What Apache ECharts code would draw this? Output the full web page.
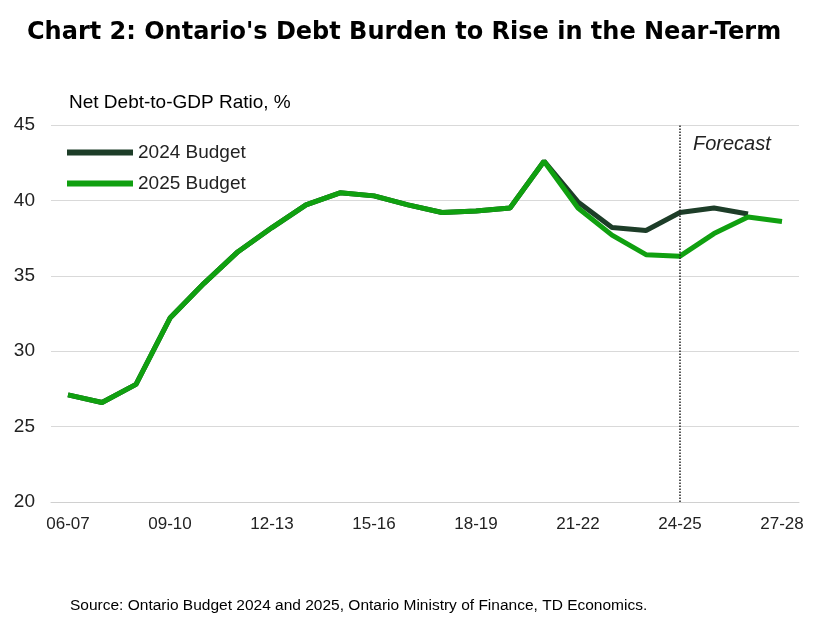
<!DOCTYPE html>
<html><head><meta charset="utf-8">
<script src="https://cdn.jsdelivr.net/npm/echarts@6/dist/echarts.min.js"></script>
<style>body{margin:0;background:#fff}#c{width:827px;height:617px}</style>
</head><body><div id="c"></div>
<script>
const categories=['06-07','07-08','08-09','09-10','10-11','11-12','12-13','13-14','14-15','15-16','16-17','17-18','18-19','19-20','20-21','21-22','22-23','23-24','24-25','25-26','26-27','27-28'];
const budget2024=[27.1,26.6,27.8,32.2,34.5,36.6,38.2,39.7,40.5,40.3,39.7,39.2,39.3,39.5,42.6,39.9,38.2,38.0,39.2,39.5,39.1,null];
const budget2025=[27.1,26.6,27.8,32.2,34.5,36.6,38.2,39.7,40.5,40.3,39.7,39.2,39.3,39.5,42.6,39.5,37.7,36.4,36.3,37.8,38.9,38.6];
const chart=echarts.init(document.getElementById('c'));
const F='Liberation Sans';
chart.setOption({
 animation:false,
 textStyle:{fontFamily:F},
 title:[{text:"Chart 2: Ontario's Debt Burden to Rise in the Near-Term",left:22,top:16,textStyle:{fontSize:24,fontWeight:'bold',color:'#000',fontFamily:'DejaVu Sans'}},
  {text:'Net Debt-to-GDP Ratio, %',left:64,top:88,textStyle:{fontSize:19,fontWeight:'normal',color:'#000'}},
  {text:'Source: Ontario Budget 2024 and 2025, Ontario Ministry of Finance, TD Economics.',left:65,top:593,textStyle:{fontSize:15.5,fontWeight:'normal',color:'#000'}}],
 legend:{left:62,top:138,orient:'vertical',itemGap:12,itemWidth:66,itemHeight:6,icon:'rect',textStyle:{fontSize:19,color:'#222'},data:['2024 Budget','2025 Budget']},
 grid:{left:51,right:28,top:125,bottom:115,containLabel:false},
 xAxis:{type:'category',data:categories,boundaryGap:true,
  axisLine:{lineStyle:{color:'#d0d0d0'}},axisTick:{show:false},
  axisLabel:{interval:2,fontSize:17,color:'#222',margin:14}},
 yAxis:{type:'value',min:20,max:45,interval:5,
  axisLabel:{fontSize:19,color:'#222',margin:16},
  splitLine:{lineStyle:{color:'#d9d9d9'}},axisLine:{show:false}},
 series:[
  {name:'2024 Budget',type:'line',data:budget2024,symbol:'none',lineStyle:{width:5,color:'#1d3d28'},itemStyle:{color:'#1d3d28'},
   markLine:{silent:true,symbol:'none',label:{show:false},lineStyle:{type:'dotted',color:'#222',width:1.5},data:[{xAxis:'24-25'}]}},
  {name:'2025 Budget',type:'line',data:budget2025,symbol:'none',lineStyle:{width:5,color:'#10a010'},itemStyle:{color:'#10a010'}}
 ],
 graphic:[{type:'text',left:693,top:134,style:{text:'Forecast',fontSize:20,fontStyle:'italic',fill:'#222',fontFamily:F}}]
});
</script></body></html>
